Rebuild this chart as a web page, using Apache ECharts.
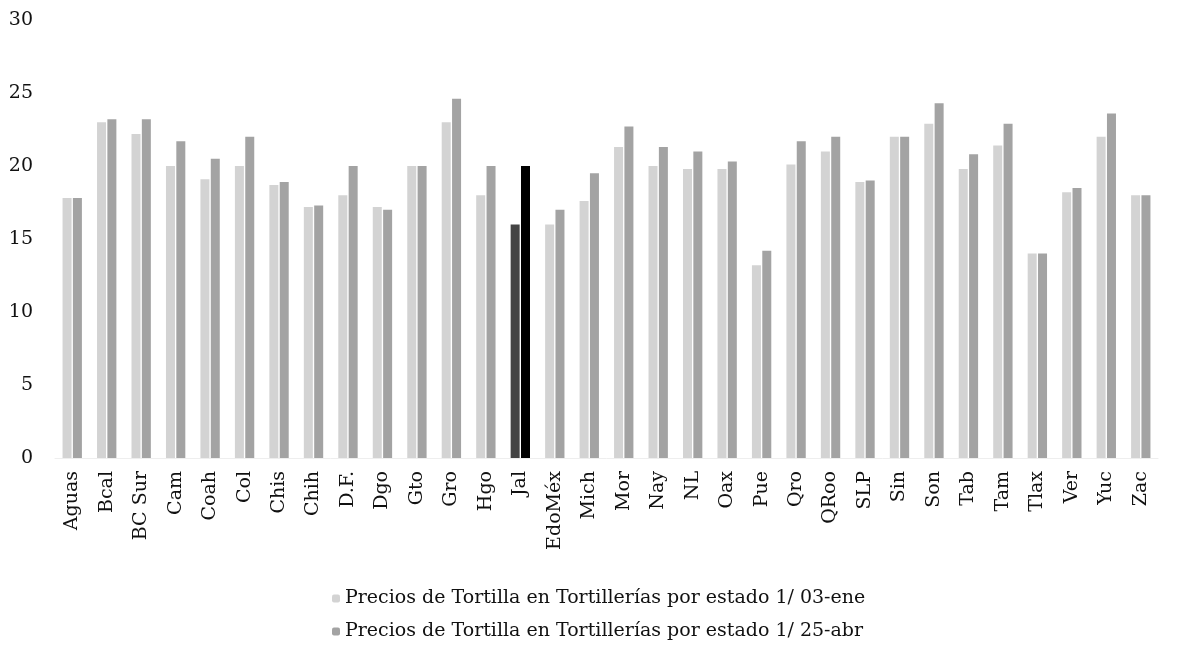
<!DOCTYPE html>
<html>
<head>
<meta charset="utf-8">
<script src="https://cdn.jsdelivr.net/npm/echarts@6/dist/echarts.min.js"></script>
<style>
html, body { margin: 0; padding: 0; background: #fff; }
#main { width: 1180px; height: 648px; }
</style>
</head>
<body>
<div id="main"></div>
<script>
var estados = ['Aguas', 'Bcal', 'BC Sur', 'Cam', 'Coah', 'Col', 'Chis', 'Chih', 'D.F.', 'Dgo', 'Gto', 'Gro', 'Hgo', 'Jal', 'EdoMéx', 'Mich', 'Mor', 'Nay', 'NL', 'Oax', 'Pue', 'Qro', 'QRoo', 'SLP', 'Sin', 'Son', 'Tab', 'Tam', 'Tlax', 'Ver', 'Yuc', 'Zac'];
var precios03ene = [17.8, 23.0, 22.2, 20.0, 19.1, 20.0, 18.7, 17.2, 18.0, 17.2, 20.0, 23.0, 18.0, 16.0, 16.0, 17.6, 21.3, 20.0, 19.8, 19.8, 13.2, 20.1, 21.0, 18.9, 22.0, 22.9, 19.8, 21.4, 14.0, 18.2, 22.0, 18.0];
var precios25abr = [17.8, 23.2, 23.2, 21.7, 20.5, 22.0, 18.9, 17.3, 20.0, 17.0, 20.0, 24.6, 20.0, 20.0, 17.0, 19.5, 22.7, 21.3, 21.0, 20.3, 14.2, 21.7, 22.0, 19.0, 22.0, 24.3, 20.8, 22.9, 14.0, 18.5, 23.6, 18.0];
var serie1 = 'Precios de Tortilla en Tortillerías por estado 1/ 03-ene';
var serie2 = 'Precios de Tortilla en Tortillerías por estado 1/ 25-abr';

var fuente = 'DejaVu Serif';

// Jal va resaltado en oscuro
function conResalte(arr, color) {
	return arr.map(function (v, i) {
		if (estados[i] === 'Jal') {
			return { value: v, itemStyle: { color: color } };
		}
		return v;
	});
}

var chartDom = document.getElementById('main');
var myChart = echarts.init(chartDom);
var option = {
	animation: false,
	grid: {
		left: 55,
		right: 22,
		top: 20,
		bottom: 190
	},
	legend: {
		orient: 'vertical',
		left: 327,
		bottom: 2,
		itemWidth: 8,
		itemHeight: 8,
		itemGap: 14,
		textStyle: { fontFamily: fuente, fontSize: 19, color: '#111' },
		data: [serie1, serie2]
	},
	xAxis: {
		type: 'category',
		data: estados,
		axisLine: { show: true, lineStyle: { color: '#eeeeee' } },
		axisTick: { show: false },
		axisLabel: {
			rotate: 90,
			interval: 0,
			margin: 13,
			fontFamily: fuente,
			fontSize: 19,
			color: '#111'
		}
	},
	yAxis: {
		type: 'value',
		min: 0,
		max: 30,
		interval: 5,
		splitLine: { show: false },
		axisLine: { show: false },
		axisTick: { show: false },
		axisLabel: {
			fontFamily: fuente,
			fontSize: 19,
			color: '#111',
			margin: 22
		}
	},
	series: [{
			name: serie1,
			type: 'bar',
			barWidth: 9,
			barGap: '15%',
			itemStyle: { color: '#d3d3d3' },
			data: conResalte(precios03ene, '#444444')
		},
		{
			name: serie2,
			type: 'bar',
			barWidth: 9,
			barGap: '15%',
			itemStyle: { color: '#a3a3a3' },
			data: conResalte(precios25abr, '#000000')
		}
	]
};
option && myChart.setOption(option);
</script>
</body>
</html>
